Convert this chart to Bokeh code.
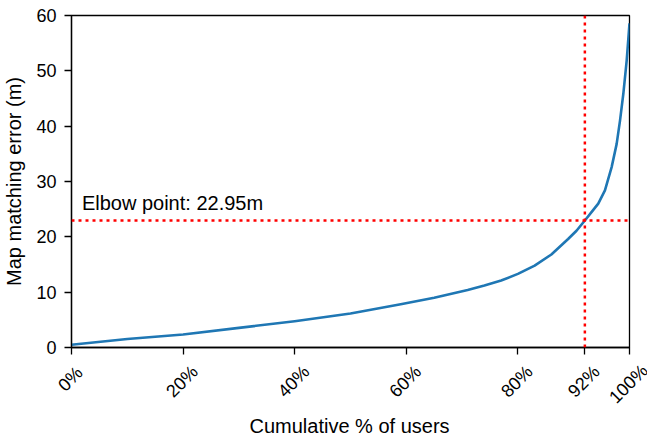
import math
from bokeh.plotting import figure
from bokeh.layouts import column
from bokeh.models import FixedTicker, Span, Label, ColumnDataSource, Range1d
from bokeh.core.properties import value
from bokeh.embed import file_html
from bokeh.resources import INLINE

# Data
cum_pct = [0, 10, 20, 30, 40, 50, 59, 65, 71, 74, 77, 80, 83, 86, 89, 90.5, 92,
           93.3, 94.4, 95.6, 96.8, 97.7, 98.3, 98.9, 99.5, 100]
error_m = [0.5, 1.55, 2.35, 3.55, 4.75, 6.15, 7.8, 9.0, 10.4, 11.2, 12.1, 13.3, 14.8, 16.8, 19.6, 21.1, 22.95,
           24.6, 26.0, 28.4, 32.6, 36.8, 41.0, 45.9, 51.9, 58.6]
elbow_x = 92
elbow_y = 22.95
x_ticks = [0, 20, 40, 60, 80, 92, 100]
x_tick_labels = ["0%", "20%", "40%", "60%", "80%", "92%", "100%"]
y_ticks = [0, 10, 20, 30, 40, 50, 60]
x_title = "Cumulative % of users"
y_title = "Map matching error (m)"

FONT = "Liberation Sans"
FS_TICK = 18
FS_TITLE = 20
X0, X1 = 0, 100
Y0, Y1 = 0, 60
W = 647
BL, BR, BT = 70, 19, 15
FRAME_W, FRAME_H = 558, 332
TICK_AREA = 10
STRIP_H = 439 - BT - FRAME_H - TICK_AREA
px_per_x = FRAME_W / (X1 - X0)
px_per_y = FRAME_H / (Y1 - Y0)

p = figure(width=W, height=BT + FRAME_H + TICK_AREA, output_backend="svg", toolbar_location=None,
           x_range=Range1d(X0, X1), y_range=Range1d(Y0, Y1),
           min_border_left=BL, min_border_right=BR, min_border_top=BT, min_border_bottom=TICK_AREA)
p.frame_width = FRAME_W
p.frame_height = FRAME_H
p.grid.visible = False
p.outline_line_color = "black"
p.outline_line_width = 1.3
p.background_fill_color = "white"
p.border_fill_color = "white"

src = ColumnDataSource(dict(x=cum_pct, y=error_m))
p.line("x", "y", source=src, line_color="#1f77b4", line_width=2.6, line_join="round")

p.add_layout(Span(location=elbow_y, dimension="width", line_color="red",
                  line_width=2.5, line_dash="3 4"))
p.add_layout(Span(location=elbow_x, dimension="height", line_color="red",
                  line_width=2.5, line_dash="3 4"))

p.add_layout(Label(x=10.4 / px_per_x, y=elbow_y + 6.5 / px_per_y, text=f"Elbow point: {elbow_y}m",
                   text_baseline="bottom", text_align="left",
                   text_font=FONT, text_font_size=f"{FS_TITLE}px", text_color="black"))

p.xaxis.ticker = FixedTicker(ticks=x_ticks)
p.xaxis.major_label_text_font_size = "0px"
p.xaxis.major_label_standoff = 0
p.yaxis.ticker = FixedTicker(ticks=y_ticks)

for ax in (p.xaxis[0], p.yaxis[0]):
    ax.axis_line_color = "black"
    ax.axis_line_width = 1.3
    ax.major_tick_line_color = "black"
    ax.major_tick_line_width = 1.3
    ax.major_tick_out = 7
    ax.major_tick_in = 0
    ax.minor_tick_line_color = None
    ax.major_label_text_font = FONT
    ax.major_label_text_color = "black"
    ax.axis_label_text_font = FONT
    ax.axis_label_text_font_size = f"{FS_TITLE}px"
    ax.axis_label_text_font_style = "normal"
    ax.axis_label_text_color = "black"
p.yaxis.major_label_text_font_size = f"{FS_TICK}px"
p.yaxis.major_label_standoff = 8
p.yaxis.axis_label = y_title
p.yaxis.axis_label_standoff = 8

# strip below the plot for rotated tick labels (centred under ticks) and x title
s = figure(width=W, height=STRIP_H, output_backend="svg", toolbar_location=None,
           x_range=Range1d(X0 - BL / px_per_x, X1 + BR / px_per_x), y_range=Range1d(0, STRIP_H),
           x_axis_location=None, y_axis_location=None,
           min_border_left=0, min_border_right=0, min_border_top=0, min_border_bottom=0)
s.frame_width = W
s.frame_height = STRIP_H
s.grid.visible = False
s.outline_line_color = None
s.background_fill_color = "white"
s.border_fill_color = "white"

def _text_w(t):
    return sum(0.889 * FS_TICK if c == "%" else 0.556 * FS_TICK for c in t)

lab_y = []
for t in x_tick_labels:
    off_px = 25 + 0.25 * _text_w(t)          # centre of label below the x axis
    lab_y.append(STRIP_H - (off_px - TICK_AREA))
lab_src = ColumnDataSource(dict(x=x_ticks, y=lab_y, t=x_tick_labels))
s.text("x", "y", text="t", source=lab_src, angle=math.pi / 4,
       text_align="center", text_baseline="middle",
       text_font=value(FONT), text_font_size=value(f"{FS_TICK}px"), text_color="black")

title_src = ColumnDataSource(dict(x=[(X0 + X1) / 2], y=[STRIP_H - (425 - BT - FRAME_H - TICK_AREA)], t=[x_title]))
s.text("x", "y", text="t", source=title_src, text_align="center", text_baseline="middle",
       text_font=value(FONT), text_font_size=value(f"{FS_TITLE}px"), text_color="black")

layout = column(p, column(s, spacing=0), spacing=0)
open("out.html", "w").write(file_html(layout, INLINE))
